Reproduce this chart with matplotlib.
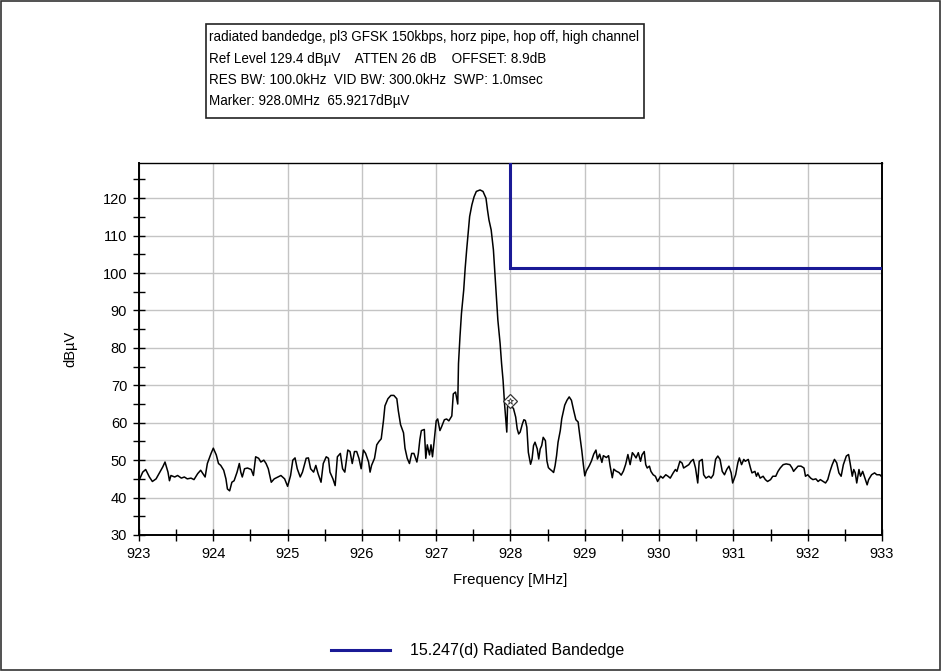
import matplotlib
matplotlib.use("Agg")
import matplotlib.pyplot as plt
from matplotlib.patches import Rectangle
from matplotlib.lines import Line2D

plt.rcParams['font.family'] = ['Liberation Sans', 'DejaVu Sans']

# ---------------- data ----------------
freq_mhz = [
    923.01, 923.05, 923.09, 923.14, 923.18, 923.23, 923.27, 923.32, 923.35, 923.39,
    923.41, 923.43, 923.48, 923.52, 923.57, 923.61, 923.65, 923.70, 923.74, 923.79,
    923.83, 923.86, 923.89, 923.92, 923.97, 924.00, 924.04, 924.07, 924.10, 924.14,
    924.17, 924.19, 924.22, 924.25, 924.28, 924.32, 924.35, 924.37, 924.39, 924.42,
    924.46, 924.51, 924.54, 924.57, 924.61, 924.64, 924.68, 924.71, 924.74, 924.78,
    924.82, 924.87, 924.91, 924.96, 925.00, 925.04, 925.07, 925.10, 925.13, 925.17,
    925.20, 925.25, 925.28, 925.31, 925.35, 925.38, 925.41, 925.45, 925.48, 925.52,
    925.55, 925.57, 925.61, 925.64, 925.67, 925.71, 925.74, 925.77, 925.81, 925.84,
    925.87, 925.90, 925.93, 925.96, 925.99, 926.02, 926.05, 926.09, 926.11, 926.13,
    926.17, 926.20, 926.23, 926.26, 926.29, 926.31, 926.35, 926.39, 926.43, 926.47,
    926.49, 926.52, 926.56, 926.58, 926.61, 926.64, 926.67, 926.70, 926.74, 926.76,
    926.78, 926.80, 926.84, 926.86, 926.88, 926.91, 926.93, 926.95, 926.97, 927.00,
    927.02, 927.05, 927.07, 927.11, 927.14, 927.17, 927.21, 927.23, 927.26, 927.29,
    927.30, 927.32, 927.34, 927.37, 927.39, 927.41, 927.43, 927.45, 927.48, 927.51,
    927.54, 927.59, 927.63, 927.67, 927.69, 927.71, 927.74, 927.77, 927.79, 927.81,
    927.83, 927.86, 927.88, 927.90, 927.92,
    927.95, 927.96, 927.98, 928.00, 928.02, 928.04, 928.07, 928.09, 928.11, 928.13,
    928.16, 928.18, 928.20, 928.22, 928.24, 928.27, 928.29, 928.31, 928.33, 928.36,
    928.38, 928.40, 928.42, 928.44, 928.47, 928.49, 928.51, 928.53, 928.56, 928.58,
    928.60, 928.62, 928.64, 928.67, 928.69, 928.71, 928.73, 928.76, 928.79, 928.82,
    928.85, 928.88, 928.91, 928.93, 928.96, 928.98, 929.00, 929.02, 929.06, 929.09,
    929.12, 929.15, 929.17, 929.20, 929.23, 929.25, 929.29, 929.32, 929.34, 929.37,
    929.39, 929.42, 929.46, 929.49, 929.52, 929.55,
    929.58, 929.61, 929.64, 929.66, 929.69, 929.72, 929.75, 929.77, 929.80, 929.82,
    929.84, 929.87, 929.89, 929.92, 929.95, 929.98, 930.02, 930.05, 930.09, 930.12,
    930.15, 930.19, 930.22, 930.24, 930.28, 930.31, 930.33, 930.37, 930.40, 930.43,
    930.46, 930.49, 930.52, 930.54, 930.58, 930.60, 930.63, 930.67, 930.70, 930.73,
    930.76, 930.79, 930.82, 930.85, 930.88, 930.91, 930.94, 930.97, 930.99, 931.03,
    931.06, 931.08, 931.11, 931.14, 931.16, 931.20, 931.23, 931.25, 931.29, 931.31,
    931.33, 931.36, 931.40, 931.43, 931.46, 931.50, 931.53, 931.57, 931.60, 931.63,
    931.67, 931.71, 931.76, 931.79, 931.81, 931.83, 931.87, 931.91, 931.95, 931.97,
    932.00, 932.04, 932.07, 932.11, 932.14, 932.17, 932.21, 932.24, 932.27, 932.30,
    932.33, 932.36, 932.39, 932.42, 932.45, 932.48, 932.52, 932.55, 932.57, 932.60,
    932.62, 932.64, 932.66, 932.69, 932.71, 932.74, 932.77, 932.80, 932.82, 932.86,
    932.90, 932.93, 932.97, 932.99, 933.00,
]
level_dbuv = [
    45.0, 46.8, 47.5, 45.5, 44.3, 45.0, 46.4, 48.2, 49.5, 46.8,
    44.5, 45.9, 45.5, 45.9, 45.2, 45.5, 45.0, 45.2, 44.8, 46.4,
    47.3, 46.4, 45.5, 49.1, 51.8, 53.2, 51.4, 49.1, 48.6, 47.3,
    45.0, 42.3, 41.8, 44.1, 44.5, 46.8, 49.1, 46.8, 45.5, 47.7,
    47.9, 47.5, 45.9, 50.9, 50.5, 49.5, 50.0, 49.1, 47.7, 44.1,
    45.0, 45.5, 45.9, 45.0, 43.0, 45.9, 50.0, 50.6, 47.7, 45.5,
    46.8, 50.5, 50.6, 47.7, 46.8, 48.6, 46.4, 44.1, 49.1, 50.9,
    50.5, 46.8, 45.0, 43.2, 50.9, 51.8, 47.7, 46.8, 52.7, 52.3,
    49.1, 52.3, 52.3, 50.5, 47.7, 52.7, 51.8, 49.5, 46.8, 48.6,
    50.5, 54.1, 55.0, 55.7, 60.5, 64.5, 66.4, 67.3, 67.3, 66.4,
    63.2, 59.5, 57.3, 53.2, 50.5, 49.1, 51.8, 51.8, 49.5, 51.8,
    55.5, 57.9, 58.2, 50.5, 54.1, 51.4, 54.1, 50.9, 54.6, 60.5,
    61.0, 57.9, 58.8, 60.8, 61.0, 60.5, 61.8, 67.7, 68.2, 65.0,
    75.8, 83.0, 89.2, 95.4, 101.3, 106.2, 110.6, 115.1, 118.2, 120.4,
    121.8, 122.2, 121.8, 120.0, 116.9, 114.2, 111.5, 106.2, 99.9, 93.7,
    87.4, 81.2, 75.8, 71.3, 65.0,
    57.5, 64.2, 66.0, 65.9, 64.2, 63.8, 61.5, 58.4, 57.0, 57.5,
    59.7, 60.8, 60.6, 58.8, 52.1, 48.9, 50.3, 53.9, 54.8, 53.0,
    50.3, 53.0, 53.9, 56.1, 55.2, 49.8, 48.0, 47.6, 47.1, 46.7,
    48.5, 51.2, 54.8, 57.9, 61.1, 62.9, 64.7, 66.0, 66.9, 66.0,
    63.3, 60.8, 60.2, 57.0, 52.5, 48.9, 45.8, 47.1, 48.5, 49.8,
    51.6, 52.7, 50.3, 51.6, 49.4, 51.2, 50.7, 51.2, 48.5, 45.3,
    47.6, 47.1, 46.7, 46.0, 47.1, 48.9,
    51.5, 48.8, 52.0, 51.5, 50.6, 52.0, 49.7, 51.4, 52.3, 48.8,
    47.9, 48.4, 47.0, 46.1, 45.7, 44.3, 45.7, 45.2, 46.1, 45.7,
    45.2, 46.6, 47.5, 47.0, 49.7, 49.2, 47.9, 48.4, 48.8, 49.7,
    50.2, 47.9, 43.9, 49.7, 50.2, 46.1, 45.2, 45.7, 45.2, 46.1,
    50.2, 51.1, 50.2, 47.0, 46.1, 47.5, 48.4, 46.6, 43.9, 46.1,
    49.3, 50.6, 48.8, 50.2, 49.7, 50.2, 47.9, 46.6, 47.0, 45.7,
    46.6, 45.2, 45.7, 44.8, 44.3, 44.8, 45.7, 45.7, 47.0, 47.9,
    48.8, 49.0, 48.8, 47.9, 47.0, 47.5, 48.4, 48.4, 47.9, 45.7,
    46.1, 45.2, 44.8, 45.0, 44.3, 44.8, 44.3, 43.9, 44.8, 47.0,
    48.8, 50.2, 49.3, 46.6, 45.7, 48.8, 51.1, 51.5, 49.3, 45.7,
    47.5, 46.6, 43.9, 47.5, 45.7, 47.0, 45.2, 43.4, 44.8, 46.1,
    46.6, 46.1, 46.1, 45.7, 45.7,
]

limit_freq = [928.0, 928.0, 933.0]
limit_level = [129.4, 101.4, 101.4]
limit_label = "15.247(d) Radiated Bandedge"

marker_freq = 928.0
marker_level = 65.9217

header_lines = [
    "radiated bandedge, pl3 GFSK 150kbps, horz pipe, hop off, high channel",
    "Ref Level 129.4 dB\u00b5V    ATTEN 26 dB    OFFSET: 8.9dB",
    "RES BW: 100.0kHz  VID BW: 300.0kHz  SWP: 1.0msec",
    "Marker: 928.0MHz  65.9217dB\u00b5V",
]

x_ticks = [923, 924, 925, 926, 927, 928, 929, 930, 931, 932, 933]
y_ticks = [30, 40, 50, 60, 70, 80, 90, 100, 110, 120]

# ---------------- figure ----------------
W, H = 941, 671
fig = plt.figure(figsize=(W / 100, H / 100), dpi=100)
fig.patch.set_facecolor('white')

def fx(px):
    return px / W

def fy(py):
    return 1 - py / H

ax = fig.add_axes([fx(139), fy(535), fx(882) - fx(139), fy(163) - fy(535)])

limit_color = '#1a1a96'

ax.plot(freq_mhz, level_dbuv, color='black', lw=1.1, zorder=3)
ax.plot(limit_freq, limit_level, color=limit_color, lw=2.2, zorder=4,
        solid_joinstyle='miter')
ax.plot([marker_freq], [marker_level], marker='D', ms=7, mfc='white',
        mec='#333333', mew=0.9, zorder=5)
ax.plot([marker_freq], [marker_level], marker='*', ms=5, mfc='none',
        mec='#333333', mew=0.6, zorder=6)

ax.set_xlim(923, 933)
ax.set_ylim(30, 129.4)
ax.set_xticks(x_ticks)
ax.set_xticklabels([str(t) for t in x_ticks])
ax.set_yticks(y_ticks)
ax.set_yticklabels([str(t) for t in y_ticks])
ax.set_xticks([t + 0.5 for t in x_ticks[:-1]], minor=True)
ax.set_yticks([t + 5 for t in y_ticks], minor=True)

ax.grid(True, which='major', color='#c4c4c4', lw=1.0)
ax.set_axisbelow(True)
ax.tick_params(axis='both', which='major', direction='inout', length=9,
               width=1.0, labelsize=10.5, colors='black', pad=4)
ax.tick_params(axis='both', which='minor', direction='inout', length=9,
               width=1.0)
for s in ax.spines.values():
    s.set_color('black')
    s.set_linewidth(1.0)
ax.spines['left'].set_linewidth(1.4)
ax.spines['bottom'].set_linewidth(1.4)
ax.spines['right'].set_linewidth(1.4)

ax.set_xlabel("Frequency [MHz]", fontsize=10.8, labelpad=9)
ax.set_ylabel("dB\u00b5V", fontsize=10.5, labelpad=18)

# header box
box_l, box_t, box_r, box_b = 206, 24, 644, 118
fig.patches.append(Rectangle((fx(box_l), fy(box_b)), fx(box_r) - fx(box_l),
                             fy(box_t) - fy(box_b), transform=fig.transFigure,
                             fill=False, edgecolor='#222222', lw=1.2))
line_y = [37, 58.5, 80, 101.5]
for txt, yy in zip(header_lines, line_y):
    fig.text(fx(209), fy(yy), txt, fontsize=9.75, va='center', ha='left',
             color='black')

# legend
handle = Line2D([0], [0], color=limit_color, lw=2.2)
fig.legend([handle], [limit_label], loc='center left',
           bbox_to_anchor=(fx(317), fy(651)), frameon=False, fontsize=11.5,
           handlelength=3.7, handletextpad=1.25)

# outer border
fig.patches.append(Rectangle((0.001, 0.001), 0.998, 0.997,
                             transform=fig.transFigure, fill=False,
                             edgecolor='#333333', lw=1.2))

fig.savefig("out.png", dpi=100, facecolor='white')
